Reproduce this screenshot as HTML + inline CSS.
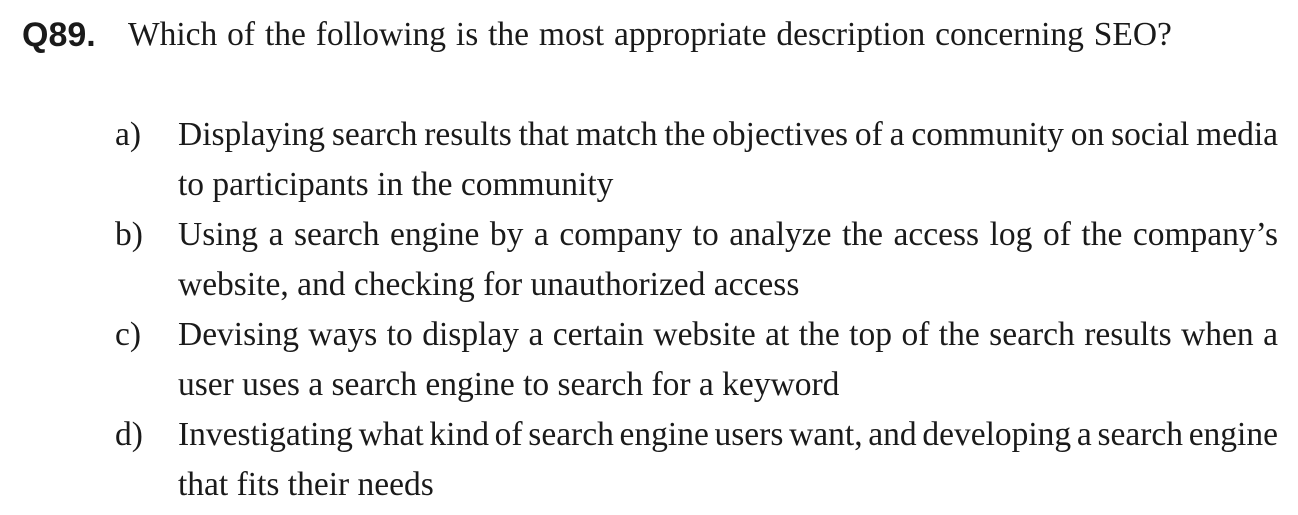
<!DOCTYPE html>
<html><head><meta charset="utf-8"><style>
html,body{margin:0;padding:0;background:#fff;width:1298px;height:515px;overflow:hidden}
body{position:relative;font-family:"Liberation Serif",serif;font-size:33.5px;color:#1a1a1a}
.q{position:absolute;left:22px;top:10px;line-height:50px;font-family:"Liberation Sans",sans-serif;font-weight:bold;font-size:34px}
.qt{position:absolute;left:128px;top:10px;line-height:50px;white-space:nowrap;word-spacing:1.5px}
.opt{position:absolute;left:115px;width:1163px;line-height:50px}
.opt .l{position:absolute;left:0;top:0}
.opt .j{margin-left:63px;text-align:justify;text-align-last:justify;white-space:nowrap}
.opt .t{margin-left:63px;white-space:nowrap}
</style></head><body>
<div class="q">Q89.</div>
<div class="qt">Which of the following is the most appropriate description concerning SEO?</div>
<div class="opt" style="top:110px"><span class="l">a)</span><div class="j" style="word-spacing:-2.5px">Displaying search results that match the objectives of a community on social media</div><div class="t">to participants in the community</div></div>
<div class="opt" style="top:210px"><span class="l">b)</span><div class="j">Using a search engine by a company to analyze the access log of the company’s</div><div class="t">website, and checking for unauthorized access</div></div>
<div class="opt" style="top:310px"><span class="l">c)</span><div class="j">Devising ways to display a certain website at the top of the search results when a</div><div class="t">user uses a search engine to search for a keyword</div></div>
<div class="opt" style="top:410px"><span class="l">d)</span><div class="j" style="word-spacing:-3.5px">Investigating what kind of search engine users want, and developing a search engine</div><div class="t">that fits their needs</div></div>
</body></html>
